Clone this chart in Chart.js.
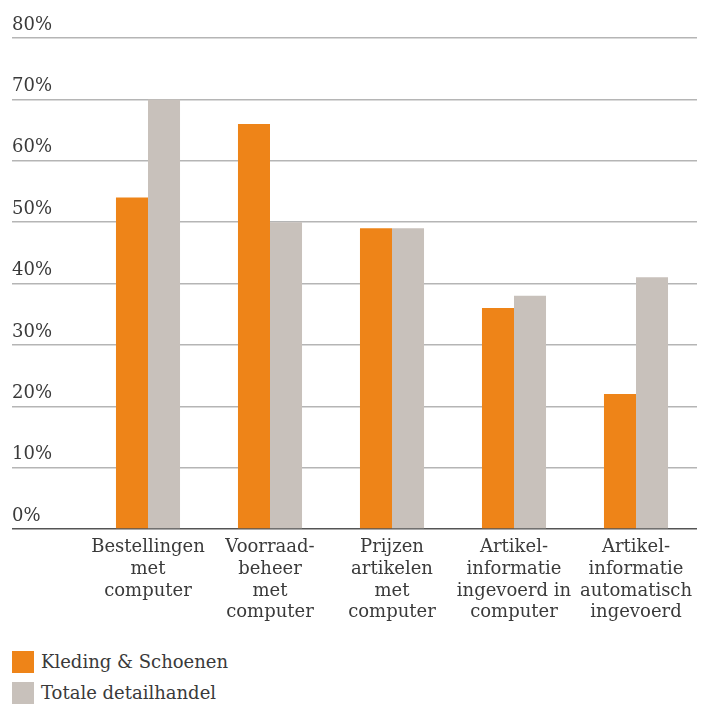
<!DOCTYPE html>
<html>
<head>
<meta charset="utf-8">
<script src="https://cdn.jsdelivr.net/npm/chart.js@4/dist/chart.umd.min.js"></script>
<style>
  body { margin: 0; background: #fff; }
  #wrap { position: relative; width: 702px; height: 640px; }
  #legend { margin: 6px 0 0 12px; font: 18px "DejaVu Serif", serif; color: #3a3a3a; }
  .item { display: flex; align-items: center; height: 31px; }
  .box { width: 22px; height: 22px; margin-right: 7px; }
</style>
</head>
<body>
<div id="wrap"><canvas id="chart"></canvas></div>
<div id="legend"></div>
<script>
const categories = [
    ['Bestellingen', 'met', 'computer'],
    ['Voorraad-', 'beheer', 'met', 'computer'],
    ['Prijzen', 'artikelen', 'met', 'computer'],
    ['Artikel-', 'informatie', 'ingevoerd in', 'computer'],
    ['Artikel-', 'informatie', 'automatisch', 'ingevoerd']
];
const kledingValues = [54, 66, 49, 36, 22];
const totaalValues = [70, 50, 49, 38, 41];
const yTicks = [0, 10, 20, 30, 40, 50, 60, 70, 80];

const font = { family: '"DejaVu Serif", serif', size: 18 };
const textColor = '#3a3a3a';

const ctx = document.getElementById('chart').getContext('2d');

let chart = new Chart(ctx, {
    type: 'bar',
    data: {
        labels: categories,
        datasets: [
            { label: 'Kleding & Schoenen', data: kledingValues, backgroundColor: '#EE8418' },
            { label: 'Totale detailhandel', data: totaalValues, backgroundColor: '#C8C1BB' }
        ]
    },
    options: {
        responsive: true,
        maintainAspectRatio: false,
        animation: false,
        layout: { padding: { left: 12, right: 5, top: 38, bottom: 0 } },
        datasets: { bar: { barPercentage: 1, categoryPercentage: 0.525 } },
        scales: {
            x: {
                grid: { display: false },
                border: { display: false },
                ticks: { color: textColor, font: { ...font, lineHeight: 1.2 }, maxRotation: 0, autoSkip: false, padding: 0 },
                afterFit: s => { s.height = 111; }
            },
            y: {
                min: 0,
                max: 80,
                afterBuildTicks: s => { s.ticks = yTicks.map(v => ({ value: v })); },
                grid: {
                    color: c => c.tick && c.tick.value === 0 ? '#555' : '#b5b5b5',
                    lineWidth: 1.5,
                    tickLength: 75,
                    drawTicks: true
                },
                border: { display: false },
                ticks: {
                    color: textColor,
                    font: font,
                    crossAlign: 'far',
                    labelOffset: -13,
                    padding: 0,
                    callback: v => v + '%'
                },
                afterFit: s => { s.width = 75; }
            }
        },
        plugins: {
            legend: { display: false },
            tooltip: { enabled: false }
        }
    }
});

// HTML legend built from the chart datasets, stacked like the original
const legendEl = document.getElementById('legend');
chart.data.datasets.forEach(ds => {
    const row = document.createElement('div');
    row.className = 'item';
    const box = document.createElement('span');
    box.className = 'box';
    box.style.background = ds.backgroundColor;
    row.appendChild(box);
    row.appendChild(document.createTextNode(ds.label));
    legendEl.appendChild(row);
});
</script>
</body>
</html>
